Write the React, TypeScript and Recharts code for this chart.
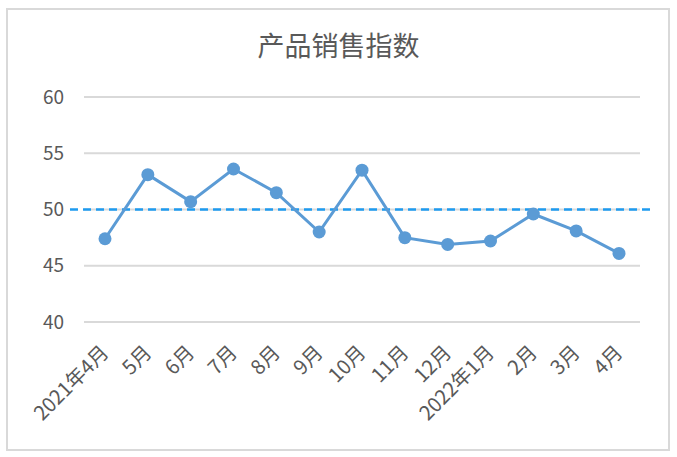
import React from 'react';
import {
  LineChart,
  Line,
  XAxis,
  YAxis,
  CartesianGrid,
  ReferenceLine,
} from 'recharts';

const months = [
  '2021年4月', '5月', '6月', '7月', '8月', '9月', '10月',
  '11月', '12月', '2022年1月', '2月', '3月', '4月',
];
const salesIndex = [47.4, 53.1, 50.7, 53.6, 51.5, 48.0, 53.5, 47.5, 46.9, 47.2, 49.6, 48.1, 46.1];
const yTicks = [40, 45, 50, 55, 60];
const baseline = 50;

const data = months.map((m, i) => ({ month: m, value: salesIndex[i] }));

const FONT = '"Noto Sans CJK SC", "Noto Sans", sans-serif';
const TEXT = '#595959';

const MonthTick = ({ x, y, payload }: any) => (
  <g transform={`translate(${x},${y + 19}) rotate(-45)`}>
    <text x={0} y={0} dy="0.35em" textAnchor="end" fill={TEXT} fontSize={20} fontFamily={FONT}>
      {payload.value}
    </text>
  </g>
);

const DashLine = (p: any) => (
  <line
    x1={p.x1 - 14}
    y1={p.y1}
    x2={p.x2 + 15}
    y2={p.y2}
    stroke="#1E9BEF"
    strokeWidth={2.5}
    strokeDasharray="8 5"
  />
);

export default function App() {
  return (
    <div style={{ position: 'absolute', left: 0, top: 0, width: 677, height: 457, background: '#fff' }}>
      <div
        style={{
          position: 'absolute',
          left: 6,
          top: 8,
          width: 660,
          height: 439,
          border: '2px solid #D9D9D9',
        }}
      />
      <div
        style={{
          position: 'absolute',
          left: 0,
          top: 26,
          width: 677,
          textAlign: 'center',
          fontFamily: FONT,
          fontSize: 27,
          color: TEXT,
          lineHeight: '38px',
        }}
      >
        产品销售指数
      </div>
      <div style={{ position: 'absolute', left: 0, top: 0 }}>
        <LineChart width={677} height={457} data={data} margin={{ top: 97, right: 37, bottom: 0, left: 0 }}>
          <CartesianGrid vertical={false} stroke="#D9D9D9" strokeWidth={2} />
          <XAxis
            dataKey="month"
            interval={0}
            tickLine={false}
            axisLine={false}
            tick={<MonthTick />}
            height={135}
            padding={{ left: 21, right: 21 }}
          />
          <YAxis
            domain={[40, 60]}
            ticks={yTicks}
            width={84}
            tickLine={false}
            axisLine={false}
            tickMargin={14}
            tick={{ fill: TEXT, fontSize: 19, fontFamily: FONT }}
          />
          <ReferenceLine y={baseline} shape={<DashLine />} />
          <Line
            type="linear"
            dataKey="value"
            stroke="#5B9BD5"
            strokeWidth={3}
            dot={{ r: 6.5, fill: '#5B9BD5', stroke: 'none' }}
            isAnimationActive={false}
          />
        </LineChart>
      </div>
    </div>
  );
}
